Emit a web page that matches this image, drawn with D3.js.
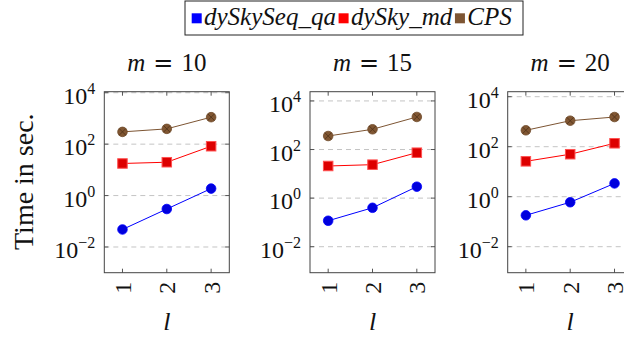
<!DOCTYPE html>
<html><head><meta charset="utf-8">
<script src="https://cdn.jsdelivr.net/npm/d3@7"></script>
<style>html,body{margin:0;padding:0;background:#fff;overflow:hidden}
svg text{font-family:"Liberation Serif","Times New Roman",serif;}</style>
</head><body>
<script>
// ---- data ----
const categories = [1, 2, 3];
const panelLabels = ["10", "15", "20"];
const seriesNames = ["dySkySeq_qa", "dySky_md", "CPS"];
const qaValues  = [[0.048, 0.30, 1.87], [0.117, 0.40, 2.95], [0.18, 0.60, 3.4]];
const mdValues  = [[17.7, 19.8, 83],   [21, 23.8, 74],     [26, 50, 137]];
const cpsValues = [[300, 393, 1120],   [360, 680, 2190],   [453, 1096, 1540]];
const yTickExponents = [-2, 0, 2, 4];
const yLogDomains = [[-3.0, 4.04], [-3.07, 4.38], [-3.04, 4.2]];

// ---- layout ----
const W = 624, H = 338;
const panelLefts = [104.3, 310, 507.7];
const panelW = 125, panelTop = 91.7, panelH = 181;
const serif = "Liberation Serif";
const colors = { qa: "#0000ff", md: "#ff0000", cps: "#7d5533" };

const svg = d3.select("body").append("svg").attr("width", W).attr("height", H);

const x = d3.scaleLinear().domain([0.59, 3.41]);

panelLabels.forEach((lab, p) => {
  const left = panelLefts[p];
  const g = svg.append("g").attr("transform", `translate(${left},${panelTop})`);
  const xs = x.copy().range([0, panelW]);
  const ys = d3.scaleLog().domain(yLogDomains[p].map(e => Math.pow(10, e))).range([panelH, 0]);

  // grid
  yTickExponents.forEach(e => {
    const yy = ys(Math.pow(10, e));
    g.append("line").attr("x1", 0).attr("x2", panelW).attr("y1", yy).attr("y2", yy)
      .attr("stroke", "#c4c4c4").attr("stroke-width", 1).attr("stroke-dasharray", "5,4");
    g.append("line").attr("x1", 0).attr("x2", 4).attr("y1", yy).attr("y2", yy).attr("stroke", "#555");
    g.append("line").attr("x1", panelW - 4).attr("x2", panelW).attr("y1", yy).attr("y2", yy).attr("stroke", "#555");
    const t = g.append("text").attr("x", -9).attr("y", yy + 11).attr("text-anchor", "end")
      .attr("font-family", serif).attr("font-size", 24).attr("fill", "#111");
    t.append("tspan").attr("font-family", serif).text("10");
    t.append("tspan").attr("font-family", serif).attr("dy", -10).attr("font-size", 16)
      .text(e < 0 ? "\u2212" + (-e) : String(e));
  });

  // x ticks
  categories.forEach(c => {
    const xx = xs(c);
    g.append("line").attr("x1", xx).attr("x2", xx).attr("y1", panelH).attr("y2", panelH - 4).attr("stroke", "#555");
    g.append("line").attr("x1", xx).attr("x2", xx).attr("y1", 0).attr("y2", 4).attr("stroke", "#555");
    g.append("text").attr("transform", `translate(${xx + 8.5},${panelH + 9}) rotate(-90)`)
      .attr("text-anchor", "end").attr("font-family", serif).attr("font-size", 24).attr("fill", "#111").text(c);
  });

  // frame
  g.append("rect").attr("x", 0).attr("y", 0).attr("width", panelW).attr("height", panelH)
    .attr("fill", "none").attr("stroke", "#444").attr("stroke-width", 1);

  const line = d3.line().x((d, i) => xs(categories[i])).y(d => ys(d));

  // CPS
  const cps = cpsValues[p];
  g.append("path").attr("d", line(cps)).attr("fill", "none").attr("stroke", colors.cps).attr("stroke-width", 1);
  cps.forEach((v, i) => {
    const cx = xs(categories[i]), cy = ys(v), r = 4.8, k = r * 0.7;
    g.append("circle").attr("cx", cx).attr("cy", cy).attr("r", r)
      .attr("fill", "#805632").attr("stroke", "#6e4a2a").attr("stroke-width", 0.8);
    g.append("path").attr("d", `M${cx - k},${cy - k}L${cx + k},${cy + k}M${cx - k},${cy + k}L${cx + k},${cy - k}`)
      .attr("stroke", "#4e3118").attr("stroke-width", 0.8);
  });

  // md
  const md = mdValues[p];
  g.append("path").attr("d", line(md)).attr("fill", "none").attr("stroke", colors.md).attr("stroke-width", 1);
  md.forEach((v, i) => {
    const cx = xs(categories[i]), cy = ys(v), s = 9.5;
    g.append("rect").attr("x", cx - s / 2).attr("y", cy - s / 2).attr("width", s).attr("height", s)
      .attr("fill", "#dd0000").attr("stroke", "#ff5050").attr("stroke-width", 1);
  });

  // qa
  const qa = qaValues[p];
  g.append("path").attr("d", line(qa)).attr("fill", "none").attr("stroke", colors.qa).attr("stroke-width", 1);
  qa.forEach((v, i) => {
    g.append("circle").attr("cx", xs(categories[i])).attr("cy", ys(v)).attr("r", 4.8)
      .attr("fill", "#0000dd").attr("stroke", "#0000ff").attr("stroke-width", 0.8);
  });

  // title
  const cx = left + panelW / 2;
  const tt = svg.append("text").attr("x", cx).attr("y", 70.5).attr("text-anchor", "middle")
    .attr("font-family", serif).attr("font-size", 25).attr("fill", "#111");
  tt.append("tspan").attr("font-family", serif).attr("font-style", "italic").text("m");
  tt.append("tspan").attr("dx", 8).attr("style", "font-family:'DejaVu Serif'").attr("font-size", 24).text("=");
  tt.append("tspan").attr("dx", 8).attr("font-family", serif).text(lab);

  // x label
  svg.append("text").attr("x", cx).attr("y", 330).attr("text-anchor", "middle")
    .attr("font-family", serif).attr("font-size", 26).attr("font-style", "italic").attr("fill", "#111").text("l");
});

// y label
svg.append("text").attr("transform", "translate(33,181.7) rotate(-90)")
  .attr("text-anchor", "middle").attr("font-family", serif).attr("font-size", 28).attr("fill", "#111").text("Time in sec.");

// legend
const leg = svg.append("g");
leg.append("rect").attr("x", 185).attr("y", 1).attr("width", 338).attr("height", 34)
  .attr("fill", "#fff").attr("stroke", "#222").attr("stroke-width", 1);
const legColors = [colors.qa, colors.md, colors.cps];
let lx = 191.7;
seriesNames.forEach((n, i) => {
  leg.append("rect").attr("x", lx).attr("y", 13.3).attr("width", 10).attr("height", 10).attr("fill", legColors[i]);
  const t = leg.append("text").attr("x", lx + 12.3).attr("y", 25).attr("font-family", serif).attr("font-size", 25)
    .attr("font-style", "italic").attr("fill", "#111").text(n);
  lx = lx + 12.3 + t.node().getComputedTextLength() + 2.7;
});
</script>
</body></html>
